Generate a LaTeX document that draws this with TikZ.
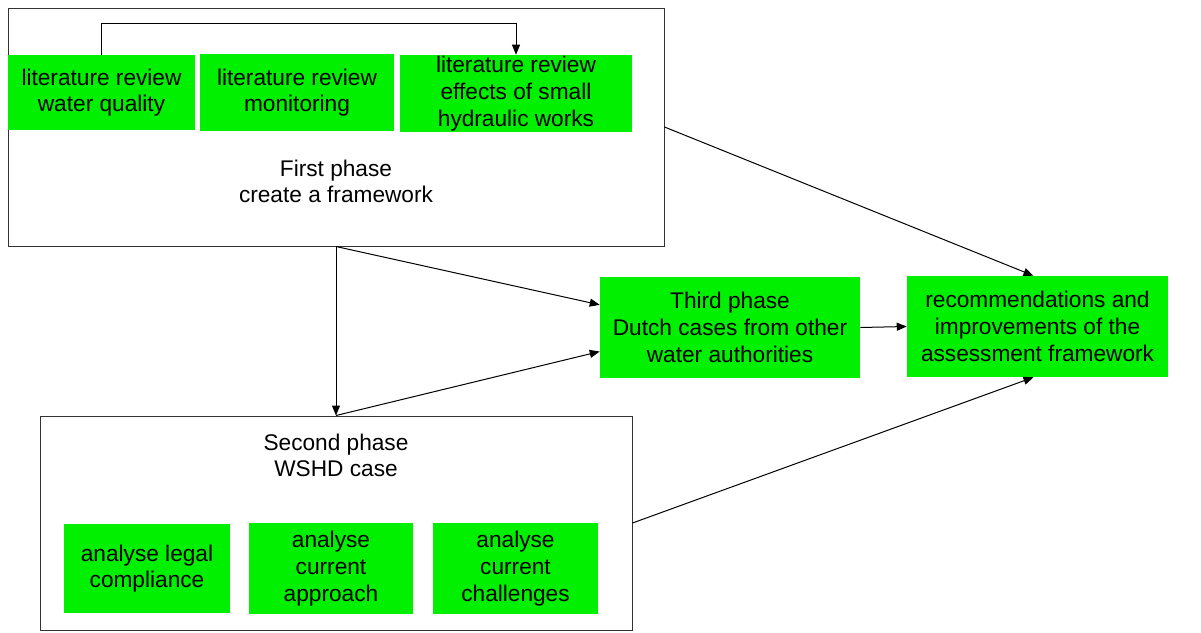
\documentclass[tikz,border=0pt]{standalone}
\usepackage{fontspec}
\setmainfont{Liberation Sans}
\usetikzlibrary{arrows.meta}
\definecolor{boxgreen}{RGB}{0,240,0}
\tikzset{
  task/.style={fill=boxgreen, align=center, inner sep=0pt, font=\fontsize{17}{20}\selectfont},
  phase/.style={draw=black!80, fill=white, inner sep=0pt, line width=0.75pt},
  phasetext/.style={align=center, font=\fontsize{17}{20}\selectfont},
  link/.style={->, line width=0.75pt, >={Triangle[length=7.5pt,width=6pt]}}
}
\begin{document}
\begin{tikzpicture}[x=0.75pt,y=-0.75pt]
\useasboundingbox (0,0) rectangle (1201,632);

% phase boxes
\node[phase, minimum width=492pt, minimum height=178.5pt] (first) at (336,127) {};
\node[phase, minimum width=444pt, minimum height=160.5pt] (second) at (336,523) {};
\node[phasetext] (firstlbl) at (336,181.5) {First phase\\create a framework};
\node[phasetext] (secondlbl) at (336,455.5) {Second phase\\WSHD case};

% green tasks
\node[task, minimum width=140.25pt, minimum height=56.25pt] (litwq) at (101.5,92.5) {literature review\\water quality};
\node[task, minimum width=145.5pt, minimum height=57.75pt] (litmon) at (297,92.5) {literature review\\monitoring};
\node[task, minimum width=174pt, minimum height=57.75pt] (lithw) at (516,93.5) {literature review\\effects of small\\hydraulic works};
\node[task, minimum width=124.5pt, minimum height=66.75pt] (legal) at (147,568.5) {analyse legal\\compliance};
\node[task, minimum width=123pt, minimum height=68.25pt] (approach) at (331,568.5) {analyse\\current\\approach};
\node[task, minimum width=123.75pt, minimum height=68.25pt] (challenge) at (515.5,568.5) {analyse\\current\\challenges};
\node[task, minimum width=195pt, minimum height=75.75pt] (third) at (730,327.5) {Third phase\\Dutch cases from other\\water authorities};
\node[task, minimum width=195.75pt, minimum height=75.75pt] (reco) at (1037.5,326.5) {recommendations and\\improvements of the\\assessment framework};

% connectors
\draw[link] (litwq.north) -- ++(0,-31) -| (lithw.north);
\draw[link] (first.south) -- (second.north);
\draw[link] (first.south) -- ([yshift=17pt]third.west);
\draw[link] (second.north) -- ([yshift=-18pt]third.west);
\draw[link] (third.east) -- (reco.west);
\draw[link] (first.east) -- ([xshift=-3pt]reco.north);
\draw[link] (second.east) -- ([xshift=-3pt]reco.south);

\end{tikzpicture}
\end{document}
